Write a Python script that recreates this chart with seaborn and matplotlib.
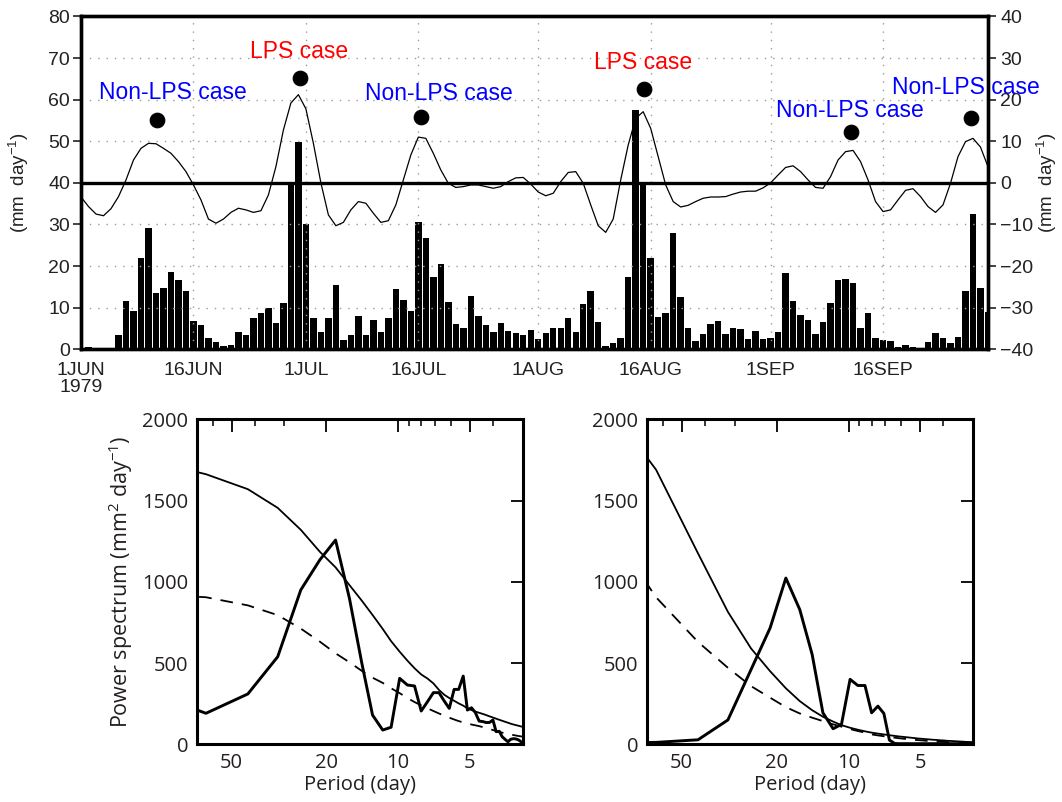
import matplotlib
matplotlib.use("Agg")
import matplotlib.pyplot as plt
import numpy as np
import pandas as pd
import seaborn as sns
from matplotlib.ticker import FixedLocator, NullFormatter

# ---- top panel: daily rainfall (1 JUN - 30 SEP 1979) and filtered anomaly ----
dates = pd.date_range("1979-06-01", "1979-09-30", freq="D")
day = (dates - dates[0]).days.values

rain = [0.3, 0.6, 0.3, 0.3, 0.3, 3.4, 11.7, 9.2, 22.0, 29.2,
        13.5, 14.7, 18.6, 16.7, 14.1, 6.8, 5.8, 2.6, 1.8, 0.9,
        1.0, 4.2, 3.4, 7.4, 8.7, 9.9, 6.3, 11.1, 40.0, 49.8,
        30.0, 7.4, 4.2, 7.4, 15.5, 2.2, 3.4, 8.0, 3.4, 7.1,
        4.2, 7.5, 14.5, 11.9, 9.2, 30.6, 26.8, 17.4, 20.5, 11.4,
        6.1, 5.1, 12.8, 8.0, 5.8, 4.2, 6.3, 4.4, 3.9, 3.4,
        4.6, 2.5, 3.9, 5.0, 5.0, 7.5, 4.2, 10.9, 14.0, 6.6,
        0.8, 1.5, 2.7, 17.4, 57.5, 40.0, 22.0, 7.8, 8.7, 28.0,
        12.6, 5.1, 2.0, 3.7, 6.1, 6.8, 3.7, 5.1, 4.9, 2.5,
        4.4, 2.5, 2.7, 4.2, 18.3, 11.6, 8.3, 7.1, 3.7, 6.6,
        11.1, 16.7, 16.9, 15.9, 5.1, 8.7, 2.7, 2.2, 2.0, 0.6,
        1.0, 0.6, 0.3, 1.8, 3.9, 2.7, 1.5, 3.0, 14.0, 32.5,
        14.7, 9.0]

anom = [-3.4, -5.7, -7.5, -7.9, -6.2, -3.3, 0.7, 5.5, 8.3, 9.5,
        9.4, 8.3, 7.1, 5.1, 2.7, -0.5, -4.1, -8.7, -9.7, -8.7,
        -7.1, -6.1, -6.5, -7.1, -6.7, -2.9, 3.9, 12.7, 19.2, 21.2,
        17.8, 9.5, 0.0, -7.7, -10.3, -9.5, -6.5, -4.5, -4.9, -7.3,
        -9.5, -9.1, -5.3, 0.7, 6.7, 11.0, 10.7, 7.1, 3.1, -0.1,
        -1.1, -0.9, -0.5, -0.5, -0.9, -1.3, -0.9, 0.3, 1.2, 1.3,
        -0.3, -2.2, -3.1, -2.5, 0.3, 2.5, 2.7, -0.1, -5.3, -10.3,
        -11.9, -8.7, 0.7, 9.1, 15.5, 17.1, 13.1, 6.3, -0.5, -4.5,
        -5.8, -5.4, -4.5, -3.7, -3.4, -3.4, -3.3, -2.7, -2.2, -2.0,
        -2.0, -1.2, 0.0, 1.9, 3.7, 4.1, 2.7, 0.7, -1.1, -1.3,
        1.5, 5.5, 7.5, 7.8, 5.1, 0.7, -4.5, -6.9, -6.5, -4.1,
        -1.8, -1.4, -3.3, -5.7, -7.1, -5.3, -0.1, 6.3, 9.9, 10.7,
        8.6, 3.9]

date_ticks = [0, 15, 30, 45, 61, 76, 92, 107]
date_labels = ["1JUN\n1979", "16JUN", "1JUL", "16JUL", "1AUG", "16AUG", "1SEP", "16SEP"]

case_day = [10.1, 29.2, 45.3, 75.1, 102.7, 118.8]
case_dot = [55.1, 65.3, 55.9, 62.5, 52.2, 55.5]
case_text = ["Non-LPS case", "LPS case", "Non-LPS case", "LPS case", "Non-LPS case", "Non-LPS case"]
text_day = [12.2, 29.1, 47.8, 75.0, 102.6, 118.1]
text_y = [61.6, 71.5, 61.5, 68.9, 57.5, 63.0]

# ---- bottom panels: power spectra ----
period = [128, 64, 42.7, 32, 25.6, 21.3, 18.3, 16, 14.2, 12.8,
          11.6, 10.7, 9.85, 9.14, 8.53, 8.0, 7.53, 7.11, 6.74, 6.4,
          6.1, 5.82, 5.57, 5.33, 5.12, 4.92, 4.74, 4.57, 4.41, 4.27,
          4.13, 4.0, 3.88, 3.76, 3.66, 3.56, 3.46, 3.37, 3.28, 3.2,
          3.12, 3.05, 2.98]

spec_a = [352, 191, 310, 539, 950, 1135, 1257, 898, 500, 180,
          88, 105, 406, 365, 359, 205, 262, 318, 318, 266,
          221, 338, 338, 420, 211, 225, 195, 143, 140, 134,
          135, 150, 78, 80, 47, 31, 16, 31, 35, 33,
          27, 16, 2]
red_a = [1770, 1662, 1570, 1455, 1320, 1185, 1089, 980, 884, 796,
         710, 635, 570, 515, 468, 430, 405, 375, 335, 305,
         285, 268, 252, 238, 222, 211, 202, 194, 187, 180,
         172, 165, 158, 151, 145, 139, 133, 127, 122, 118,
         114, 110, 107]
mean_a = [930, 905, 855, 795, 712, 632, 560, 505, 452, 410,
          378, 345, 315, 285, 260, 240, 222, 205, 190, 176,
          164, 153, 143, 135, 128, 122, 117, 112, 106, 100,
          94, 88, 82, 77, 72, 68, 64, 60, 57, 54,
          51, 49, 47]

spec_b = [8, 12, 28, 150, 460, 716, 1023, 829, 553, 194,
          96, 123, 400, 362, 362, 194, 235, 190, 26, 5,
          4, 4, 4, 4, 4, 4, 4, 4, 4, 4,
          4, 4, 4, 4, 4, 4, 4, 4, 4, 4,
          4, 4, 4]
red_b = [2280, 1690, 1175, 815, 590, 450, 345, 266, 210, 170,
         140, 118, 102, 90, 80, 72, 66, 61, 56, 52,
         48, 45, 42, 39, 36, 34, 32, 30, 28, 27,
         25, 24, 22, 21, 20, 19, 18, 17, 16, 15,
         14.5, 14, 13]
mean_b = [1560, 905, 630, 471, 358, 287, 229, 190, 164, 143,
          123, 109, 94, 82, 72, 61, 55, 50, 45, 41,
          37, 34, 31, 28, 26, 24, 22, 20, 19, 17,
          16, 15, 14, 13, 12, 11, 10, 9.5, 9, 8.5,
          8, 7.5, 7]

sns.set_style("white")
plt.rcParams["font.family"] = ["Liberation Sans", "DejaVu Sans"]
plt.rcParams["mathtext.default"] = "regular"

fig = plt.figure(figsize=(10.62, 8.02), dpi=100)

# ================= top panel =================
ax = fig.add_axes([0.0763, 0.5645, 0.8540, 0.4150])
ax2 = ax.twinx()

sns.barplot(x=day, y=rain, native_scale=True, color="black", width=0.86,
            errorbar=None, saturation=1, edgecolor="none", ax=ax)
ax.set_xlim(0, 121)
ax.set_ylim(0, 80)
ax.set_yticks(np.arange(0, 81, 10))
ax.set_xticks(date_ticks)
ax.set_xticklabels(date_labels, linespacing=1.0)
ax.set_xlabel("")
ax.set_ylabel("(mm  day$^{-1}$)", fontsize=13.5, color="#222222", labelpad=12)
ax.set_axisbelow(False)
ax.grid(True, color="#9a9a9a", linestyle=(0, (1, 5)), linewidth=1.0)
ax.tick_params(axis="both", direction="out", length=6, width=1.2,
               labelsize=14, colors="#222222", pad=3)
ax.tick_params(axis="y", pad=2)

sns.scatterplot(x=case_day, y=case_dot, ax=ax, color="black", s=110,
                edgecolor="black", zorder=6, legend=False)
for d, y, t in zip(text_day, text_y, case_text):
    c = "#ff0000" if t == "LPS case" else "#0000ff"
    ax.text(d, y, t, color=c, ha="center", va="center", fontsize=16.5,
            zorder=7, clip_on=False)

sns.lineplot(x=day, y=anom, ax=ax2, color="black", linewidth=0.9, sort=False)
ax2.axhline(0, color="black", linewidth=2.4, zorder=3)
ax2.set_ylim(-40, 40)
ax2.set_yticks(np.arange(-40, 41, 10))
ax2.set_xlim(0, 121)
ax2.set_ylabel("(mm  day$^{-1}$)", fontsize=13.5, color="#222222", labelpad=1)
ax2.tick_params(axis="y", direction="out", length=6, width=1.2,
                labelsize=14, colors="#222222", pad=3)
for a in (ax, ax2):
    for s in a.spines.values():
        s.set_linewidth(2.4)
        s.set_color("black")

# ================= bottom panels =================
txt = "#231f20"
panels = [
    ([0.1852, 0.0719, 0.3070, 0.4053], spec_a, red_a, mean_a, True),
    ([0.6090, 0.0719, 0.3075, 0.4053], spec_b, red_b, mean_b, False),
]
for rect, spec, red, mean, first in panels:
    axb = fig.add_axes(rect)
    axb.set_xscale("log")
    sns.lineplot(x=period, y=red, ax=axb, color="black", linewidth=1.3, sort=False)
    sns.lineplot(x=period, y=mean, ax=axb, color="black", linewidth=1.3,
                 linestyle=(0, (7, 5)), sort=False)
    sns.lineplot(x=period, y=spec, ax=axb, color="black", linewidth=2.1, sort=False)
    axb.set_xlim(70, 3)
    axb.set_ylim(0, 2000)
    axb.set_yticks([0, 500, 1000, 1500, 2000])
    axb.xaxis.set_major_locator(FixedLocator([50, 20, 10, 5]))
    axb.xaxis.set_minor_locator(FixedLocator([60, 40, 30, 9, 8, 7, 6, 4, 3]))
    axb.xaxis.set_minor_formatter(NullFormatter())
    axb.set_xticklabels(["50", "20", "10", "5"])
    axb.tick_params(which="major", direction="in", top=True, right=True,
                    length=9, width=1.3, labelsize=14.5, colors=txt, pad=6)
    axb.tick_params(which="minor", direction="in", top=True, length=5, width=1.1)
    axb.tick_params(axis="both", which="both", color="black")
    axb.set_xlabel("Period (day)", fontsize=14.5, color=txt, labelpad=2)
    if first:
        axb.set_ylabel("Power spectrum (mm$^2$ day$^{-1}$)", fontsize=15.5,
                       color=txt, labelpad=5)
    else:
        axb.set_ylabel("")
    for s in axb.spines.values():
        s.set_linewidth(2.2)
        s.set_color("black")
    for lab in axb.get_xticklabels() + axb.get_yticklabels():
        lab.set_family(["Open Sans", "DejaVu Sans"])
    axb.xaxis.label.set_family(["Open Sans", "DejaVu Sans"])
    axb.yaxis.label.set_family(["Open Sans", "DejaVu Sans"])

fig.savefig("out.png", dpi=100)
